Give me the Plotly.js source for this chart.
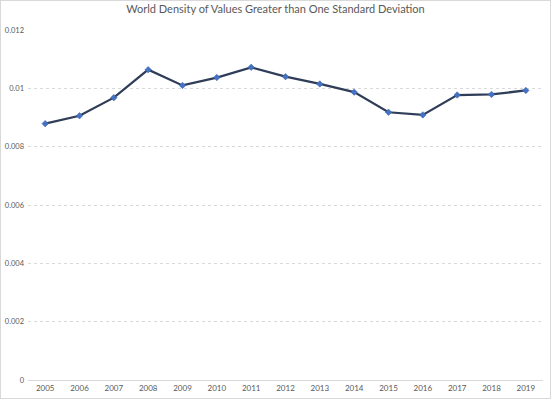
<!DOCTYPE html>
<html>
<head>
<meta charset="utf-8">
<script src="https://cdn.plot.ly/plotly-3.0.1.min.js"></script>
<style>
html,body{margin:0;padding:0;background:#fff;}
#wrap{width:551px;height:399px;box-sizing:border-box;border:1px solid #d9d9d9;}
#chart{width:549px;height:397px;}
</style>
</head>
<body>
<div id="wrap"><div id="chart"></div></div>
<script>
const years = ["2005","2006","2007","2008","2009","2010","2011","2012","2013","2014","2015","2016","2017","2018","2019"];
const density = [0.00879,0.00906,0.00968,0.01064,0.0101,0.01037,0.01072,0.0104,0.01015,0.00987,0.00918,0.00909,0.00977,0.00979,0.00993];
const yTicks = [0,0.002,0.004,0.006,0.008,0.01,0.012];
const yTickText = ["0","0.002","0.004","0.006","0.008","0.01","0.012"];

const trace = {
  x: years, y: density, type: 'scatter', mode: 'lines+markers',
  line: {color: '#2f3d58', width: 2.25},
  marker: {color: '#4472c4', size: 5, symbol: 'diamond', line: {color: '#3a5fa8', width: 0.5}},
  hoverinfo: 'x+y'
};
const layout = {
  width: 549, height: 397,
  margin: {l: 27, r: 7, t: 29, b: 18, pad: 0, autoexpand: false},
  paper_bgcolor: '#fff', plot_bgcolor: '#fff',
  font: {family: 'Lato, sans-serif', color: '#595959', size: 8},
  title: {text: 'World Density of Values Greater than One Standard Deviation', x: 0.5, xanchor: 'center', y: 0.99, yanchor: 'top', yref: 'container',
          font: {family: 'Lato, sans-serif', size: 11, color: '#595959'}},
  showlegend: false,
  xaxis: {type: 'category', range: [-0.5, years.length - 0.5], showgrid: false, showline: true, linecolor: '#d9d9d9', linewidth: 1, automargin: false,
          ticks: '', tickfont: {family: 'Liberation Sans Narrow, Lato, sans-serif', size: 8, color: '#595959'}, zeroline: false, fixedrange: true},
  yaxis: {range: [0, 0.012], tickvals: yTicks, ticktext: yTickText, showgrid: true, gridcolor: '#d9d9d9', automargin: false,
          griddash: 'dot', gridwidth: 1, zeroline: false, showline: false, ticks: '', tickfont: {family: 'Liberation Sans Narrow, Lato, sans-serif', size: 7.5, color: '#595959'},
          ticklabelstandoff: 3, fixedrange: true}
};
Plotly.newPlot('chart', [trace], layout, {displayModeBar: false, staticPlot: true});
</script>
</body>
</html>
